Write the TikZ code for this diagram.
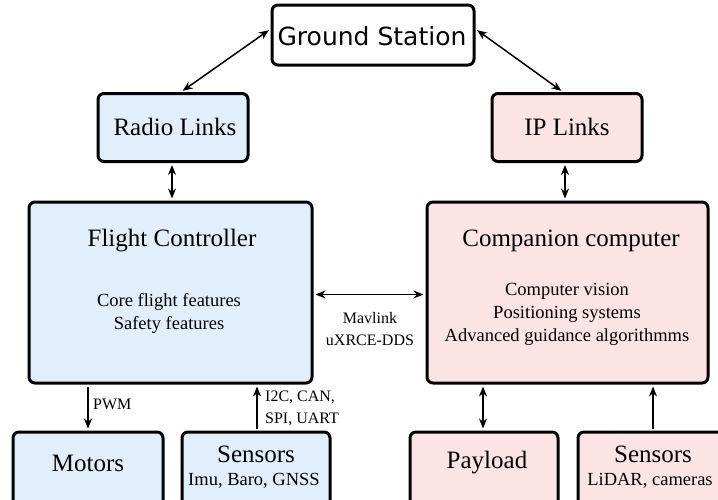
\documentclass[tikz,border=0pt]{standalone}
\usepackage{fontspec}
\setmainfont{Liberation Serif}
\newfontfamily\gsfont{DejaVu Sans}
\usetikzlibrary{arrows.meta}
\definecolor{bluefill}{HTML}{E1EEFB}
\definecolor{pinkfill}{HTML}{FDE4E4}
\begin{document}
\begin{tikzpicture}[x=1pt,y=-1pt,
  box/.style={draw=black,line width=3pt,rounded corners=6pt,inner sep=0pt},
  bluebox/.style={box,fill=bluefill},
  pinkbox/.style={box,fill=pinkfill},
  title/.style={font=\fontsize{25}{28}\selectfont,inner sep=0pt},
  small/.style={font=\fontsize{18.5}{23}\selectfont,inner sep=0pt,align=center},
  lbl/.style={font=\fontsize{16}{22}\selectfont,inner sep=0pt,align=left},
  conn/.style={line width=1.5pt,shorten <=2pt,shorten >=2pt},
  bi/.style={conn,{Stealth[length=10pt,width=8pt]}-{Stealth[length=10pt,width=8pt]}},
  uni/.style={conn,-{Stealth[length=10pt,width=8pt]}}]
\useasboundingbox (0,0) rectangle (718,499);
\fill[white] (0,0) rectangle (718,499);
% boxes
\node[box,fill=white,minimum width=202pt,minimum height=60pt] (gs) at (373,35) {};
\node[bluebox,minimum width=150pt,minimum height=68pt] (radio) at (173,127.5) {};
\node[pinkbox,minimum width=150pt,minimum height=68pt] (ip) at (567,127.5) {};
\node[bluebox,minimum width=283pt,minimum height=181pt] (fc) at (170.5,292.5) {};
\node[pinkbox,minimum width=281pt,minimum height=181pt] (cc) at (567.5,292.5) {};
\node[bluebox,minimum width=150pt,minimum height=80pt] (motors) at (88,472) {};
\node[bluebox,minimum width=148pt,minimum height=80pt] (sensL) at (256,472) {};
\node[pinkbox,minimum width=148pt,minimum height=80pt] (payload) at (484,472) {};
\node[pinkbox,minimum width=150pt,minimum height=80pt] (sensR) at (653,472) {};
% texts
\node[inner sep=0pt,font=\gsfont\fontsize{25}{28}\selectfont] (gst) at (372,36) {Ground Station};
\node[title] (radiot) at (175,127) {Radio Links};
\node[title] (ipt) at (567,127) {IP Links};
\node[title] (fct) at (172,241) {Flight Controller};
\node[small] (fcs) at (169,313) {Core flight features\\Safety features};
\node[title] (cct) at (571,241) {Companion computer};
\node[small] (ccs) at (567,314) {Computer vision\\Positioning systems\\Advanced guidance algorithmms};
\node[title] (motorst) at (88,463) {Motors};
\node[title] (sensLt) at (256,454) {Sensors};
\node[small] (sensLs) at (254,481) {Imu, Baro, GNSS};
\node[title] (payloadt) at (487,463) {Payload};
\node[title] (sensRt) at (653,454) {Sensors};
\node[small] (sensRs) at (650,481) {LiDAR, cameras};
% connectors
\draw[bi] ([yshift=6pt]gs.west) -- ([xshift=8pt]radio.north);
\draw[bi] ([yshift=6pt]gs.east) -- ([xshift=-4pt]ip.north);
\draw[bi] (radio.south -| fct) -- (fc.north -| fct);
\draw[bi] (ip.south -| 565,0) -- (cc.north -| 565,0);
\draw[bi] ([yshift=-2pt]fc.east) -- ([yshift=-2pt]cc.west);
\node[lbl,align=center] (mav) at (370,329) {Mavlink\\uXRCE-DDS};
\draw[uni] (fc.south -| motors) -- (motors.north);
\node[lbl,anchor=west] (pwm) at (93,404) {PWM};
\draw[uni] (sensL.north -| 257,0) -- (fc.south -| 257,0);
\node[lbl,anchor=west] (i2c) at (265,408) {I2C, CAN,\\SPI, UART};
\draw[bi] (payload.north -| 483,0) -- (cc.south -| 483,0);
\draw[uni] (sensR.north) -- (cc.south -| sensR);
\end{tikzpicture}
\end{document}
